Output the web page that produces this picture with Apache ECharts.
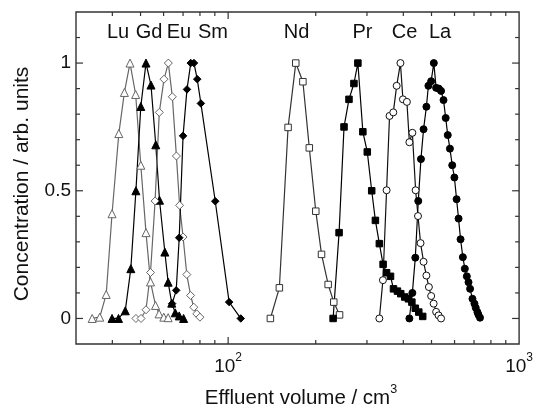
<!DOCTYPE html>
<html><head><meta charset="utf-8">
<script src="https://cdn.jsdelivr.net/npm/echarts/dist/echarts.min.js"></script>
<style>html,body{margin:0;padding:0;background:#fff}#c{width:536px;height:410px}</style>
</head><body><div id="c"></div>
<script>
// ---------------- data ----------------
const elements = ['Lu', 'Gd', 'Eu', 'Sm', 'Nd', 'Pr', 'Ce', 'La'];

const luX = [34.1, 36.2, 38.1, 39.9, 42.1, 44.0, 46.0, 48.1, 50.1, 52.2, 54.1, 56.3, 57.9, 60.1, 62.2];
const luY = [0, 0.005, 0.094, 0.41, 0.724, 0.885, 1.0, 0.877, 0.6, 0.336, 0.143, 0.051, 0.018, 0.005, 0.003];

const gdX = [39.9, 42.0, 44.3, 46.3, 48.2, 50.1, 52.2, 54.3, 56.4, 58.1, 60.6, 62.2, 64.0, 65.8, 67.9, 70.3];
const gdY = [0, 0, 0.03, 0.195, 0.5, 0.83, 1.0, 0.914, 0.68, 0.463, 0.26, 0.142, 0.06, 0.022, 0.01, 0];

const euX = [48.2, 50.2, 52.2, 54.1, 56.1, 58.0, 60.2, 62.3, 64.3, 66.4, 68.1, 70.0, 72.1, 74.3, 76.2, 78.0, 80.0];
const euY = [0, 0, 0.034, 0.18, 0.46, 0.807, 0.937, 1.0, 0.868, 0.636, 0.443, 0.319, 0.172, 0.09, 0.044, 0.018, 0.005];

const smX = [64.2, 66.3, 67.9, 70.0, 72.2, 74.4, 76.3, 78.3, 80.6, 90.3, 100.8, 110.5];
const smY = [0.058, 0.11, 0.316, 0.715, 0.897, 1.0, 1.0, 0.937, 0.842, 0.459, 0.064, 0];

const ndX = [139.7, 150.0, 160.7, 170.8, 180.7, 190.1, 200.1, 209.4, 220.7, 230.7, 241.5];
const ndY = [0, 0.12, 0.748, 1.0, 0.927, 0.668, 0.42, 0.251, 0.133, 0.064, 0.014];

const prX = [229.5, 240.6, 250.2, 260.2, 270.6, 279.2, 290.4, 300.8, 311.5, 320.7, 330.9, 340.9, 350.4, 361.5, 370.1, 381.9, 392.0, 404.5, 416.4, 428.0, 439.8, 452.1, 466.4];
const prY = [0, 0.336, 0.75, 0.858, 0.92, 1.0, 0.731, 0.652, 0.5, 0.384, 0.293, 0.212, 0.179, 0.165, 0.116, 0.107, 0.097, 0.084, 0.077, 0.064, 0.04, 0.025, 0.008];

const ceX = [330.9, 340.4, 350.4, 358.7, 369.5, 379.5, 391.0, 398.8, 411.5, 419.7, 429.7, 440.9, 449.3, 458.5, 469.5, 480.2, 489.7, 498.6, 508.5, 518.6, 528.9, 539.3];
const ceY = [0, 0.15, 0.502, 0.793, 0.807, 0.911, 1.0, 0.858, 0.848, 0.69, 0.727, 0.502, 0.401, 0.295, 0.222, 0.168, 0.123, 0.088, 0.058, 0.026, 0.012, 0];

const laX = [419.7, 429.7, 439.8, 450.3, 459.9, 469.5, 480.2, 487.8, 498.6, 509.2, 518.6, 529.7, 539.3, 549.9, 559.4, 568.6, 578.5, 589.1, 599.3, 609.7, 619.4, 629.2, 640.8, 650.9, 661.2, 670.1, 678.5, 691.4, 702.3, 709.5, 719.1, 724.7, 733.9];
const laY = [0, 0.1, 0.238, 0.46, 0.624, 0.741, 0.829, 0.911, 0.929, 1.0, 0.903, 0.9, 0.891, 0.855, 0.785, 0.718, 0.665, 0.6, 0.552, 0.467, 0.391, 0.31, 0.24, 0.195, 0.165, 0.142, 0.116, 0.077, 0.058, 0.042, 0.025, 0.015, 0.003];

// axis ticks / labels
const xMajorTicks = [100];
const xMinorTicks = [40, 50, 60, 70, 80, 90, 200, 300, 400, 500, 600, 700, 800, 900];
const xTickLabels = [100, 1000];
const yMajorTicks = [0, 0.5, 1];
const yMinorTicks = [0.1, 0.2, 0.3, 0.4, 0.6, 0.7, 0.8, 0.9, 1.1];
const yTickLabels = [0, 0.5, 1];
const xTitle = 'Effluent volume / cm';
const xTitleSup = '3';
const yTitle = 'Concentration / arb. units';

// ---------------- layout / style ----------------
const FONT = '"Liberation Sans", Arial, Helvetica, sans-serif';
const X_MIN = 30, X_MAX = 1000, Y_MIN = -0.1, Y_MAX = 1.2;
const labelPosX = [118, 149, 179, 213, 296.5, 362.5, 404.5, 440];
const labelPosY = 32;
const seriesStyle = [
  {symbol: 'triangle', filled: false, color: '#666'},
  {symbol: 'triangle', filled: true, color: '#000'},
  {symbol: 'diamond', filled: false, color: '#666'},
  {symbol: 'diamond', filled: true, color: '#000'},
  {symbol: 'rect', filled: false, color: '#333'},
  {symbol: 'rect', filled: true, color: '#000'},
  {symbol: 'circle', filled: false, color: '#111'},
  {symbol: 'circle', filled: true, color: '#000'}
];
const seriesSize = [8, 8, 8, 7.5, 6.5, 6.5, 7, 7];
const xs = [luX, gdX, euX, smX, ndX, prX, ceX, laX];
const ys = [luY, gdY, euY, smY, ndY, prY, ceY, laY];

const lineSeries = elements.map((name, i) => {
  const st = seriesStyle[i];
  return {
    name: name, type: 'line', symbol: st.symbol, symbolSize: seriesSize[i],
    showAllSymbol: true, animation: false, z: 3,
    data: xs[i].map((x, k) => [x, ys[i][k]]),
    lineStyle: {color: st.color, width: 1.2},
    itemStyle: {color: st.filled ? '#000' : '#fff', borderColor: st.filled ? '#000' : st.color, borderWidth: 1}
  };
});

function near(a, b) { return Math.abs(a - b) < 1e-6 * Math.max(1, Math.abs(b)); }

const TICK_STYLE = {stroke: '#333', lineWidth: 1.2};
const xTickSeries = {
  type: 'custom', silent: true, animation: false, clip: false, z: 2,
  data: xMajorTicks.map(v => [v, Y_MIN, 1]).concat(xMinorTicks.map(v => [v, Y_MIN, 0])),
  renderItem: (params, api) => {
    const v = api.value(0), len = api.value(2) === 1 ? 7 : 4;
    const b = api.coord([v, Y_MIN]), t = api.coord([v, Y_MAX]);
    return {type: 'group', children: [
      {type: 'line', shape: {x1: b[0], y1: b[1], x2: b[0], y2: b[1] - len}, style: TICK_STYLE},
      {type: 'line', shape: {x1: t[0], y1: t[1], x2: t[0], y2: t[1] + len}, style: TICK_STYLE}
    ]};
  }
};
const yTickSeries = {
  type: 'custom', silent: true, animation: false, clip: false, z: 2,
  data: yMajorTicks.map(v => [X_MIN, v, 1]).concat(yMinorTicks.map(v => [X_MIN, v, 0])),
  renderItem: (params, api) => {
    const v = api.value(1), len = api.value(2) === 1 ? 7 : 4;
    const l = api.coord([X_MIN, v]), r = api.coord([X_MAX, v]);
    return {type: 'group', children: [
      {type: 'line', shape: {x1: l[0], y1: l[1], x2: l[0] + len, y2: l[1]}, style: TICK_STYLE},
      {type: 'line', shape: {x1: r[0], y1: r[1], x2: r[0] - len, y2: r[1]}, style: TICK_STYLE}
    ]};
  }
};

const chart = echarts.init(document.getElementById('c'), null, {renderer: 'canvas'});
chart.setOption({
  backgroundColor: '#fff',
  animation: false,
  grid: {left: 76, right: 13, top: 12, bottom: 66, show: true, borderColor: '#333', borderWidth: 1.4, backgroundColor: 'transparent'},
  xAxis: {
    type: 'log', logBase: 10, min: X_MIN, max: X_MAX,
    axisLine: {show: false}, axisTick: {show: false}, splitLine: {show: false}, minorTick: {show: false},
    axisLabel: {
      margin: 8, showMinLabel: true, showMaxLabel: true,
      formatter: v => {
        const hit = xTickLabels.find(t => Math.abs(v - t) < 1e-6 * t);
        if (hit === undefined) return '';
        return '{b|10}{s|' + Math.round(Math.log10(hit)) + '}';
      },
      rich: {
        b: {fontSize: 19, fontFamily: FONT, color: '#111', lineHeight: 30},
        s: {fontSize: 12, fontFamily: FONT, color: '#111', lineHeight: 10, verticalAlign: 'top'}
      }
    }
  },
  yAxis: {
    type: 'value', min: Y_MIN, max: Y_MAX, interval: 0.1,
    axisLine: {show: false}, axisTick: {show: false}, splitLine: {show: false},
    axisLabel: {
      margin: 5, fontSize: 19, fontFamily: FONT, color: '#111',
      formatter: v => {
        const hit = yTickLabels.find(t => near(v, t));
        return hit === undefined ? '' : String(hit);
      }
    }
  },
  graphic: elements.map((name, i) => ({
    type: 'text', x: labelPosX[i], y: labelPosY, z: 10,
    style: {text: name, fontSize: 20, fontFamily: FONT, fill: '#111', align: 'center', verticalAlign: 'middle'}
  })).concat([
    {type: 'text', x: 22, y: 184, rotation: Math.PI / 2, z: 10,
     style: {text: yTitle, fontSize: 21, fontFamily: FONT, fill: '#111', align: 'center', verticalAlign: 'middle'}},
    {type: 'text', x: 301, y: 383, z: 10,
     style: {text: '{a|' + xTitle + '}{s|' + xTitleSup + '}', align: 'center', verticalAlign: 'top',
       rich: {
         a: {fontSize: 20.5, fontFamily: FONT, fill: '#111', lineHeight: 30},
         s: {fontSize: 12.5, fontFamily: FONT, fill: '#111', lineHeight: 10, verticalAlign: 'top'}
       }}}
  ]),
  series: lineSeries.concat([xTickSeries, yTickSeries])
});
</script>
</body></html>
